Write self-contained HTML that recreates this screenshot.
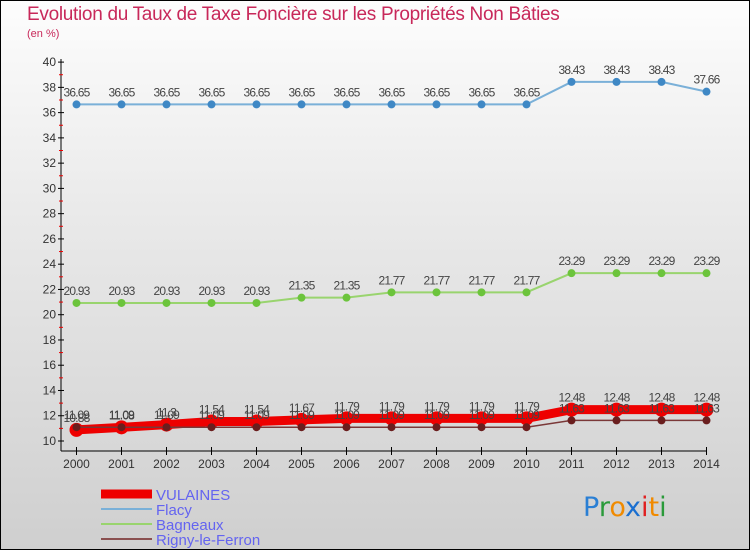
<!DOCTYPE html>
<html><head><meta charset="utf-8"><style>
body{margin:0}
#wrap{position:relative;width:750px;height:550px;box-sizing:border-box;border:1px solid #000;background:linear-gradient(#fdfdfd,#e9e9e9 40%,#cfcfcf);font-family:"Liberation Sans",sans-serif;overflow:hidden}
#title{position:absolute;left:26px;top:3px;font-size:19px;color:#c8285a;white-space:nowrap;letter-spacing:-0.3px}
#unit{position:absolute;left:26px;top:27px;font-size:11px;color:#c8285a}
svg{position:absolute;left:0;top:0}
</style></head><body>
<div id="wrap">
<div id="title">Evolution du Taux de Taxe Foncière sur les Propriétés Non Bâties</div>
<div id="unit">(en %)</div>
<svg id="svg" width="750" height="550"></svg>
</div>
<script>
const years=[2000,2001,2002,2003,2004,2005,2006,2007,2008,2009,2010,2011,2012,2013,2014];
const vulaines=[10.88,11.08,11.3,11.54,11.54,11.67,11.79,11.79,11.79,11.79,11.79,12.48,12.48,12.48,12.48];
const flacy=[36.65,36.65,36.65,36.65,36.65,36.65,36.65,36.65,36.65,36.65,36.65,38.43,38.43,38.43,37.66];
const bagneaux=[20.93,20.93,20.93,20.93,20.93,21.35,21.35,21.77,21.77,21.77,21.77,23.29,23.29,23.29,23.29];
const rigny=[11.09,11.09,11.09,11.09,11.09,11.09,11.09,11.09,11.09,11.09,11.09,11.63,11.63,11.63,11.63];
const yTicks=[10,12,14,16,18,20,22,24,26,28,30,32,34,36,38,40];
const svg=document.getElementById('svg');const NS='http://www.w3.org/2000/svg';
const X=i=>75.5+45*i;const Y=v=>440-(v-10)*12.63;
function mk(t,a,p){const e=document.createElementNS(NS,t);for(const k in a)e.setAttribute(k,a[k]);(p||svg).appendChild(e);return e;}
let e;
e=mk('line',{x1:60,y1:58,x2:60,y2:450,stroke:'#000'});
e=mk('line',{x1:60,y1:450,x2:706,y2:450,stroke:'#000'});
yTicks.forEach((v,k)=>{const y=Y(v);mk('line',{x1:57,y1:y,x2:63,y2:y,stroke:'#000'});
if(k<yTicks.length-1)mk('line',{x1:58,y1:Y(v+1),x2:62,y2:Y(v+1),stroke:'#e00'});
e=mk('text',{x:55,y:y+4,'text-anchor':'end','font-size':12,fill:'#333'});e.textContent=v;});
years.forEach((yr,i)=>{mk('line',{x1:X(i),y1:446,x2:X(i),y2:454,stroke:'#000'});
e=mk('text',{x:X(i),y:467,'text-anchor':'middle','font-size':12,fill:'#333'});e.textContent=yr;});
function series(name,vals,color,w,r,ptc){const g=mk('g',{});
mk('polyline',{points:vals.map((v,i)=>X(i)+','+Y(v)).join(' '),fill:'none',stroke:color,'stroke-width':w},g);
vals.forEach((v,i)=>{e=mk('circle',{cx:X(i),cy:Y(v),r:r,fill:ptc},g);
e=mk('text',{x:X(i),y:Y(v)-8,'text-anchor':'middle','font-size':12,fill:'#444','letter-spacing':'-0.8'},g);e.textContent=v;});}
series('flacy',flacy,'#7ab0d8',2,4,'#3f88c5');
series('bagneaux',bagneaux,'#99d46e',2,4,'#6cc43c');
series('vulaines',vulaines,'#ee0000',9,7,'#ee0000');
series('rigny',rigny,'#7a3838',1.5,4,'#6a1e1e');
const leg=[['VULAINES','#ee0000',9],['Flacy','#7ab0d8',2],['Bagneaux','#99d46e',2],['Rigny-le-Ferron','#8a5050',2]];
leg.forEach((l,i)=>{const y=493+i*15;const g=mk('g',{});
mk('line',{x1:100,y1:y,x2:151,y2:y,stroke:l[1],'stroke-width':l[2]},g);
e=mk('text',{x:155,y:y+6,'font-size':15,fill:'#6464f0'},g);e.textContent=l[0];});
e=mk('text',{x:582,y:515,'font-size':27,'font-family':'DejaVu Sans, sans-serif'});
[['P','#2a7fd4'],['r','#2a9a3a'],['o','#f08a00'],['x','#1a6fd0'],['i','#e02020'],['t','#f08a00'],['i','#2a9a3a']].forEach(c=>{const s=mk('tspan',{fill:c[1]},e);s.textContent=c[0];});
</script>
</body></html>
